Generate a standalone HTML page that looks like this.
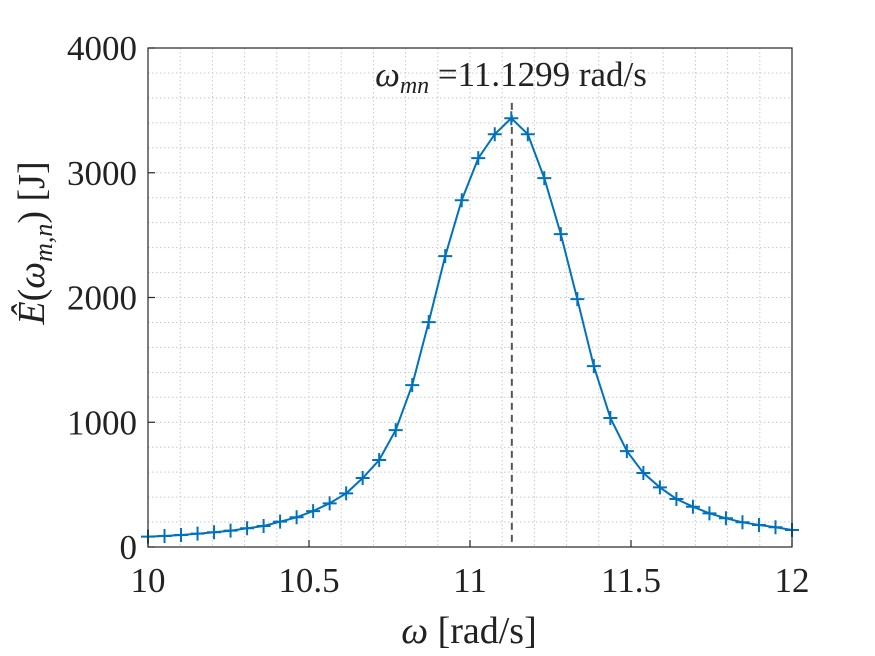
<!DOCTYPE html>
<html><head><meta charset="utf-8"><style>
html,body{margin:0;padding:0;background:#fff;}
svg{display:block;font-family:"Liberation Serif",serif;}
</style></head><body>
<svg id="chart" width="875" height="656" viewBox="0 0 875 656" xmlns="http://www.w3.org/2000/svg">
<rect width="875" height="656" fill="#fff"/>
<g id="grid"></g>
<g id="peakline"></g>
<g id="series"></g>
<g id="axes"></g>
<text x="511" y="86" font-size="35" text-anchor="middle" fill="#222"><tspan font-style="italic">ω</tspan><tspan font-style="italic" font-size="24" dy="7">mn</tspan><tspan dy="-7"> =11.1299 rad/s</tspan></text>
<text x="469" y="643" font-size="38" text-anchor="middle" fill="#222"><tspan font-style="italic">ω</tspan> [rad/s]</text>
<text transform="translate(44,243) rotate(-90)" font-size="38" text-anchor="middle" fill="#222"><tspan font-style="italic">Ê</tspan>(<tspan font-style="italic">ω</tspan><tspan font-style="italic" font-size="26" dy="8">m,n</tspan><tspan dy="-8">) [J]</tspan></text>
</svg>
<script>
const xTicks = [10, 10.5, 11, 11.5, 12];
const xTickLabels = ["10", "10.5", "11", "11.5", "12"];
const yTicks = [0, 1000, 2000, 3000, 4000];
const yTickLabels = ["0", "1000", "2000", "3000", "4000"];
const omegaStart = 10, omegaEnd = 12, nPoints = 40;
const energy = [83,88,96,107,118,131,150,168,203,238,288,350,430,553,697,937,1298,1803,2332,2780,3117,3309,3437,3309,2957,2508,1987,1450,1034,769,593,478,385,323,270,230,198,176,158,136];
const peakOmega = 11.1299;

const NS = "http://www.w3.org/2000/svg";
const L = 148, R = 792, T = 48, B = 547;
const xs = v => L + (v - 10) / 2 * (R - L);
const ys = v => B - v / 4000 * (B - T);
function mk(tag, attrs, parent) {
  const e = document.createElementNS(NS, tag);
  for (const k in attrs) e.setAttribute(k, attrs[k]);
  parent.appendChild(e);
  return e;
}
const grid = document.getElementById('grid');
for (let v = 10.1; v < 12; v += 0.1) {
  const l = mk('line', {x1: xs(v), x2: xs(v), y1: T, y2: B, stroke: '#c8c8c8', 'stroke-width': 1, 'stroke-dasharray': '1.5,2.5'}, grid);
  
  
}
for (let v = 200; v < 4000; v += 200) {
  const l = mk('line', {x1: L, x2: R, y1: ys(v), y2: ys(v), stroke: '#c8c8c8', 'stroke-width': 1, 'stroke-dasharray': '1.5,2.5'}, grid);
  
  
}
const pk = document.getElementById('peakline');
const pl = mk('line', {x1: xs(peakOmega), x2: xs(peakOmega), y1: ys(3560), y2: B, stroke: '#555', 'stroke-width': 2, 'stroke-dasharray': '7,5'}, pk);



const ser = document.getElementById('series');
const omega = energy.map((_, i) => omegaStart + i * (omegaEnd - omegaStart) / (nPoints - 1));
const pts = energy.map((e, i) => xs(omega[i]).toFixed(1) + ',' + ys(e).toFixed(1)).join(' ');
const line = mk('polyline', {points: pts, fill: 'none', stroke: '#0072bd', 'stroke-width': 2}, ser);


energy.forEach((e, i) => {
  const cx = xs(omega[i]), cy = ys(e);
  const m = mk('path', {d: `M${cx-7},${cy}H${cx+7}M${cx},${cy-7}V${cy+7}`, stroke: '#0072bd', 'stroke-width': 2}, ser);
  
  
});

const ax = document.getElementById('axes');
const box = mk('rect', {x: L, y: T, width: R - L, height: B - T, fill: 'none', stroke: '#262626', 'stroke-width': 1.2}, ax);


xTicks.forEach((v, i) => {
  const t = mk('line', {x1: xs(v), x2: xs(v), y1: B, y2: B - 7, stroke: '#262626', 'stroke-width': 1.2}, ax);
  
  
  const lb = mk('text', {x: xs(v), y: 592, 'font-size': 35, 'text-anchor': 'middle', fill: '#222'}, ax);
  lb.textContent = xTickLabels[i];
  
  
});
yTicks.forEach((v, i) => {
  const t = mk('line', {x1: L, x2: L + 7, y1: ys(v), y2: ys(v), stroke: '#262626', 'stroke-width': 1.2}, ax);
  
  
  const lb = mk('text', {x: 137, y: ys(v) + 12, 'font-size': 35, 'text-anchor': 'end', fill: '#222'}, ax);
  lb.textContent = yTickLabels[i];
  
  
});
</script>
</body></html>
